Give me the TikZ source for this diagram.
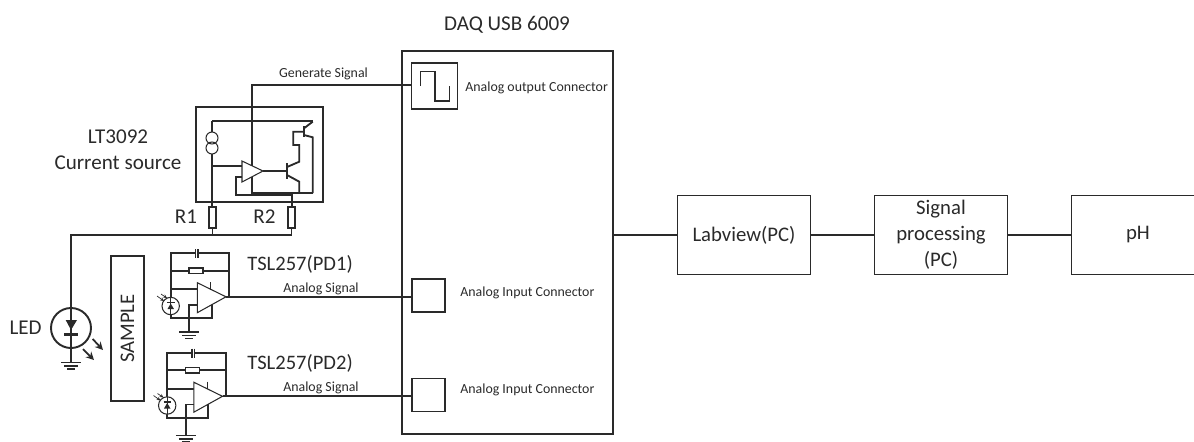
\documentclass[tikz,border=0pt]{standalone}
\usepackage{fontspec}
\setmainfont{Carlito}
\usetikzlibrary{arrows.meta}
\definecolor{ink}{HTML}{2A2A2A}
\tikzset{
  blk/.style={draw=ink, line width=0.7pt, inner sep=0pt, outer sep=0pt, align=center, text=ink, font=\fontsize{11.8}{14.8}\selectfont},
  lab/.style={text=ink, inner sep=0pt, align=center, font=\fontsize{12}{14.8}\selectfont},
  tiny/.style={text=ink, inner sep=0pt, font=\fontsize{7.9}{9}\selectfont},
  wire/.style={draw=ink, line width=1.05pt},
  thinwire/.style={draw=ink, line width=0.6pt},
  gnd/.pic={
    \draw [thinwire] (-10,0) -- (10,0);
    \draw [thinwire] (-7,3.5) -- (7,3.5);
    \draw [thinwire] (-4,6.5) -- (4,6.5);
  }
}
\begin{document}
\begin{tikzpicture}[x=0.02cm, y=-0.02cm]
        \useasboundingbox (0,0) rectangle (1194,441);
        \clip (0,0) rectangle (1194,441);
        % DAQ and the blocks on the right
        \node [blk, minimum width=4.22cm, minimum height=7.66cm] (daq) at (507.5,242.5) {};
        \node [lab] (daqname) at (507,25) {DAQ USB 6009};
        \node [blk, minimum width=0.92cm, minimum height=0.92cm] (outbox) at (434.7,86) {};
        \node [blk, minimum width=0.66cm, minimum height=0.66cm] (inbox1) at (428.5,295.5) {};
        \node [blk, minimum width=0.66cm, minimum height=0.66cm] (inbox2) at (428.5,395) {};
        \node [tiny, anchor=west] (outname) at (465,87.5) {Analog output Connector};
        \node [tiny, anchor=west] (inname1) at (460,293) {Analog Input Connector};
        \node [tiny, anchor=west] (inname2) at (460,390) {Analog Input Connector};
        \node [blk, minimum width=2.66cm, minimum height=1.58cm] (labview) at (744,235) {Labview(PC)};
        \node [blk, minimum width=2.66cm, minimum height=1.58cm] (proc) at (941,235) {Signal\\processing\\(PC)};
        \node [blk, minimum width=2.66cm, minimum height=1.58cm] (ph) at (1138,235) {pH};
        \draw [wire] (daq.east |- labview.west) -- (labview.west);
        \draw [wire] (labview) -- (proc);
        \draw [wire] (proc) -- (ph);
        % square wave
        \draw [thinwire] (420.7,86) -- (420.7,71.7) -- (435,71.7) -- (435,101) -- (449.3,101) -- (449.3,86);
        % LT3092
        \node [blk, minimum width=2.54cm, minimum height=1.9cm] (ltbox) at (259.5,154.5) {};
        \node [lab] (ltname) at (118,150) {LT3092\\Current source};
        \coordinate (sig) at (252,85);
        \draw [wire] (outbox.west |- sig) -- (sig) -- (252,165.8);
        \node [tiny] (signame) at (323.5,74) {Generate Signal};
        \draw [wire] (212,121) -- (312.7,121);
        \draw [wire] (212,121) -- (212,132);
        \draw [thinwire] (212,138) circle (6);
        \draw [thinwire] (212,148) circle (6);
        \draw [wire] (212,154) -- (212,207);
        \draw [wire] (212,166) -- (242,166);
        \draw [thinwire] (242,161) -- (242,182) -- (263,171) -- cycle;
        \draw [wire] (263,171) -- (287,171);
        \draw [wire] (287,163) -- (287,179);
        \draw [wire] (287,167) -- (299.3,161.7) -- (299.3,145) -- (293.3,145) -- (293.3,131.7) -- (304,131.7);
        \draw [wire] (304,126) -- (304,137);
        \draw [wire] (304,128.3) -- (312.7,121.7);
        \draw [wire] (304,135) -- (312.7,137.3) -- (312.7,193);
        \draw [wire] (287,175) -- (299.3,181.7) -- (299.3,193);
        \draw [wire] (252,177.2) -- (252,193) -- (312.7,193);
        \draw [wire] (242,176.7) -- (235.7,176.7) -- (235.7,195) -- (291.7,195) -- (291.7,207);
        % R1, R2
        \node [blk, line width=1.1pt, minimum width=0.14cm, minimum height=0.42cm] (rone) at (212.5,217.5) {};
        \node [blk, line width=1.1pt, minimum width=0.14cm, minimum height=0.42cm] (rtwo) at (291.5,217.5) {};
        \node [lab] (ronename) at (186,217) {R1};
        \node [lab] (rtwoname) at (264.5,217) {R2};
        \coordinate (ledtop) at (71,235);
        \draw [wire] (rone.south) -- (rone.south |- ledtop);
        \draw [wire] (rtwo.south) -- (rtwo.south |- ledtop) -- (ledtop) -- (71,362);
        % LED
        \draw [line width=1.1pt, draw=ink] (71,328) circle (20);
        \fill [ink] (65.7,320) -- (77,320) -- (71,330) -- cycle;
        \draw [line width=1.6pt, draw=ink] (64,334.5) -- (78,334.5);
        \path (71,362.5) pic {gnd};
        \draw [-{Stealth[length=4.5pt,width=4.5pt]}, line width=1pt, draw=ink, fill=ink] (92.7,339) -- (103,350);
        \draw [-{Stealth[length=4.5pt,width=4.5pt]}, line width=1pt, draw=ink, fill=ink] (83,349) -- (94,360);
        \node [lab, anchor=east] (ledname) at (42,328) {LED};
        \node [blk, rotate=90, minimum width=2.9cm, minimum height=0.66cm] (sample) at (127.5,328.5) {SAMPLE};
        % TSL257
        \foreach \dx/\dy/\gy/\n/\lbl in {0/0/332/1/TSL257(PD1), -3.5/99.5/336/2/TSL257(PD2)} {
          \begin{scope}[shift={(\dx,\dy)}]
            \coordinate (pdout\n) at (226,296.8);
            \draw [wire] (170.7,306) -- (170.7,253.3) -- (229.3,253.3) -- (229.3,296.8) -- (226,296.8);
            \fill [white] (195,250) rectangle (198.4,257);
            \draw [thinwire, line width=0.9pt] (195.3,249) -- (195.3,258);
            \draw [thinwire, line width=0.9pt] (198,249) -- (198,258);
            \draw [wire] (170.7,270.7) -- (229.3,270.7);
            \draw [thinwire, fill=white] (189,268) rectangle (203,273.5);
            \draw [wire] (170.7,289.3) -- (197.3,289.3);
            \draw [thinwire, fill=white] (197.3,282.7) -- (197.3,312.7) -- (226,296.8) -- cycle;
            \draw [thinwire] (210.7,282) -- (210.7,289.5);
            \draw [wire] (197.3,305) -- (189.3,305) -- (189.3,\gy);
            \draw [wire] (170.7,314.7) -- (170.7,318.3) -- (211.7,318.3) -- (211.7,304.8);
            \draw [thinwire, fill=white] (170.7,306) circle (8.7);
            \fill [ink] (167.5,309) -- (174,309) -- (170.7,303.5) -- cycle;
            \draw [thinwire] (167,302.5) -- (174.5,302.5);
            \draw [thinwire] (170.7,297.3) -- (170.7,314.7);
            \draw [-{Stealth[length=2.2pt,width=2pt]}, thinwire, line width=0.4pt] (157,296) -- (164,301);
            \draw [-{Stealth[length=2.2pt,width=2pt]}, thinwire, line width=0.4pt] (161,294) -- (167,298);
            \path (189.3,\gy) pic {gnd};
            \node [lab, anchor=west, font=\fontsize{11.7}{14}\selectfont] (pdname\n) at ({247-\dx},264) {\lbl};
            \node [tiny] (pdsig\n) at ({321-\dx},288.5) {Analog Signal};
          \end{scope}
          \draw [wire] (pdout\n) -- (pdout\n -| inbox\n.west);
        }
        \end{tikzpicture}
\end{document}
